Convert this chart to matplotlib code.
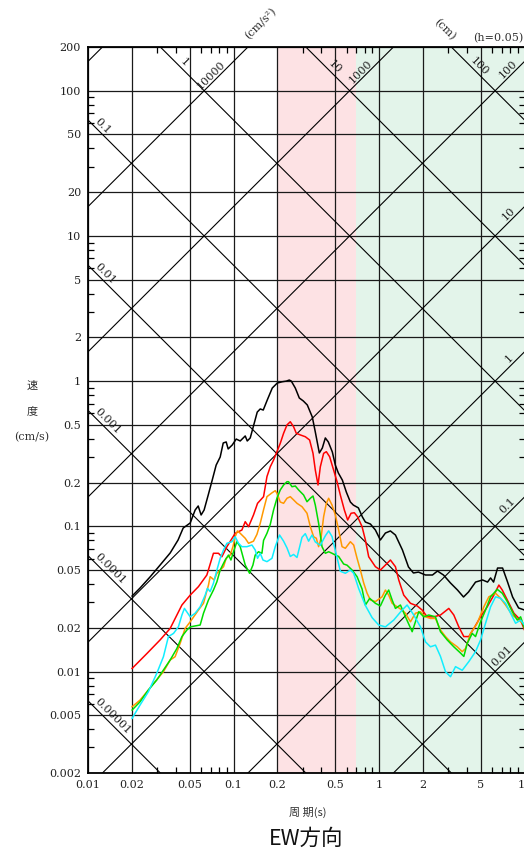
import numpy as np
import matplotlib
matplotlib.use("Agg")
import matplotlib.pyplot as plt
from matplotlib.ticker import FixedLocator, FixedFormatter, NullFormatter

# ---------------- data (period in s, pseudo velocity in cm/s) ----------------
period_black = [0.0201, 0.0228, 0.0267, 0.0313, 0.0367, 0.0416, 0.0451, 0.0504, 0.0545, 0.0572,
                0.0599, 0.0628, 0.0670, 0.0714, 0.0760, 0.0810, 0.0850, 0.0891, 0.0919, 0.0980,
                0.1044, 0.1112, 0.1204, 0.1243, 0.1303, 0.1366, 0.1456, 0.1527, 0.1601, 0.1706,
                0.1847, 0.1999, 0.2164, 0.2306, 0.2418, 0.2496, 0.2659, 0.2833, 0.3018, 0.3215,
                0.3480, 0.3650, 0.3889, 0.4078, 0.4277, 0.4485, 0.4778, 0.5011, 0.5255, 0.5600,
                0.5965, 0.6357, 0.6665, 0.7215, 0.7688, 0.8062, 0.8727, 0.9446, 1.022, 1.107,
                1.198, 1.297, 1.449, 1.594, 1.725, 1.867, 2.086, 2.331, 2.523, 2.775,
                3.100, 3.464, 3.810, 4.124, 4.608, 5.148, 5.572, 5.845, 6.129, 6.529,
                7.069, 7.651, 8.284, 9.107, 10.0]
sv_black = [0.0331, 0.0376, 0.0448, 0.0541, 0.0655, 0.0805, 0.0973, 0.1054, 0.1295, 0.138,
            0.1197, 0.1295, 0.164, 0.208, 0.264, 0.300, 0.375, 0.381, 0.341, 0.363,
            0.399, 0.387, 0.419, 0.387, 0.406, 0.483, 0.612, 0.643, 0.632, 0.741,
            0.896, 0.970, 0.99, 1.0, 1.017, 1.0, 0.896, 0.765, 0.730, 0.685,
            0.566, 0.446, 0.320, 0.346, 0.406, 0.381, 0.325, 0.264, 0.233, 0.208,
            0.172, 0.147, 0.140, 0.134, 0.116, 0.107, 0.1037, 0.0943, 0.0805, 0.0899,
            0.0929, 0.0871, 0.0687, 0.0525, 0.0477, 0.0484, 0.0462, 0.0462, 0.0492, 0.0462,
            0.0407, 0.0364, 0.0326, 0.0353, 0.0413, 0.0427, 0.0413, 0.0441, 0.0413, 0.0516,
            0.0516, 0.0413, 0.0326, 0.0274, 0.0265]

period_red = [0.0201, 0.0254, 0.0313, 0.0367, 0.0442, 0.0504, 0.0574, 0.0656, 0.0728, 0.0788,
              0.0832, 0.0901, 0.1027, 0.1142, 0.1204, 0.1269, 0.1372, 0.1463, 0.1609, 0.1698,
              0.1789, 0.1885, 0.1989, 0.2096, 0.2209, 0.2331, 0.2456, 0.2588, 0.2701, 0.2877,
              0.3115, 0.3335, 0.3520, 0.3650, 0.3810, 0.3951, 0.4163, 0.4345, 0.4578, 0.4877,
              0.5147, 0.5425, 0.5780, 0.6089, 0.6427, 0.6771, 0.7137, 0.7650, 0.8062, 0.8495,
              0.9446, 1.022, 1.107, 1.198, 1.297, 1.367, 1.479, 1.645, 1.829, 1.980,
              2.143, 2.380, 2.646, 3.018, 3.267, 3.536, 3.828, 4.143, 4.485, 4.988,
              5.546, 6.159, 6.665, 7.036, 7.615, 8.454, 9.401, 10.0]
sv_red = [0.0105, 0.0133, 0.0165, 0.0198, 0.0287, 0.0336, 0.0384, 0.0462, 0.0652, 0.0652,
          0.0617, 0.0724, 0.0895, 0.0943, 0.1076, 0.0994, 0.1197, 0.144, 0.160, 0.220,
          0.257, 0.286, 0.3265, 0.373, 0.437, 0.499, 0.525, 0.485, 0.437, 0.426,
          0.414, 0.393, 0.318, 0.244, 0.1925, 0.257, 0.318, 0.3265, 0.3015, 0.244,
          0.203, 0.164, 0.1295, 0.1105, 0.123, 0.124, 0.116, 0.0994, 0.0804, 0.0617,
          0.0527, 0.050, 0.0541, 0.0586, 0.0527, 0.0427, 0.0336, 0.0295, 0.0283, 0.0265,
          0.0238, 0.0238, 0.0245, 0.0272, 0.0245, 0.0203, 0.0174, 0.0174, 0.0198, 0.0238,
          0.0279, 0.0336, 0.0394, 0.0364, 0.0311, 0.0252, 0.0226, 0.0193]

period_orange = [0.0201, 0.0228, 0.0260, 0.0289, 0.0330, 0.0367, 0.0397, 0.0430, 0.0465, 0.0504,
                 0.0574, 0.0622, 0.0673, 0.0691, 0.0736, 0.0769, 0.0810, 0.0854, 0.0891, 0.0949,
                 0.0991, 0.1027, 0.1065, 0.1112, 0.1204, 0.1269, 0.1372, 0.1449, 0.1527, 0.1609,
                 0.1698, 0.1838, 0.1936, 0.1989, 0.2096, 0.2209, 0.2331, 0.2456, 0.2588, 0.2732,
                 0.2957, 0.3201, 0.3373, 0.3553, 0.3709, 0.3846, 0.3995, 0.4163, 0.4345, 0.4507,
                 0.4756, 0.5011, 0.5279, 0.5572, 0.5872, 0.6357, 0.6697, 0.7068, 0.7447, 0.7850,
                 0.8282, 0.8727, 0.9446, 1.050, 1.107, 1.166, 1.231, 1.332, 1.442, 1.520,
                 1.645, 1.780, 1.928, 2.086, 2.258, 2.444, 2.646, 2.864, 3.100, 3.448,
                 3.732, 3.932, 4.256, 4.733, 5.255, 5.689, 6.325, 6.847, 7.413, 8.244,
                 9.152, 10.0]
sv_orange = [0.00572, 0.00636, 0.00746, 0.00851, 0.00997, 0.0120, 0.01265, 0.01564, 0.0198, 0.0220,
             0.0265, 0.0295, 0.0394, 0.0450, 0.0427, 0.0475, 0.0500, 0.0527, 0.0602, 0.0634,
             0.0724, 0.0848, 0.0930, 0.0895, 0.0827, 0.0764, 0.0790, 0.088, 0.105, 0.130,
             0.160, 0.170, 0.176, 0.169, 0.147, 0.144, 0.156, 0.160, 0.152, 0.144,
             0.1365, 0.123, 0.0994, 0.0848, 0.0827, 0.0724, 0.0827, 0.1164, 0.144, 0.156,
             0.140, 0.1198, 0.0943, 0.0724, 0.0706, 0.0783, 0.0743, 0.0602, 0.050, 0.0407,
             0.0346, 0.0311, 0.0303, 0.0327, 0.0364, 0.0336, 0.0295, 0.0279, 0.0265, 0.0252,
             0.0220, 0.0252, 0.0258, 0.0238, 0.0232, 0.0232, 0.0193, 0.0174, 0.0160, 0.0148,
             0.0137, 0.0144, 0.0183, 0.0215, 0.0279, 0.0327, 0.0346, 0.0319, 0.0287, 0.0245,
             0.0226, 0.0209]

period_green = [0.0201, 0.0228, 0.0260, 0.0297, 0.0330, 0.0367, 0.0408, 0.0442, 0.0478, 0.0504,
                0.0590, 0.0622, 0.0673, 0.0728, 0.0769, 0.0810, 0.0877, 0.0924, 0.0960, 0.1000,
                0.1055, 0.1112, 0.1204, 0.1289, 0.1360, 0.1410, 0.1486, 0.1568, 0.1609, 0.1698,
                0.1789, 0.1885, 0.1989, 0.2096, 0.2209, 0.2331, 0.2390, 0.2523, 0.2659, 0.2802,
                0.3032, 0.3201, 0.3373, 0.3520, 0.3650, 0.3846, 0.4058, 0.4277, 0.4507, 0.4756,
                0.5011, 0.5279, 0.5715, 0.6031, 0.6530, 0.7068, 0.7650, 0.8062, 0.8630, 0.9446,
                1.022, 1.107, 1.166, 1.231, 1.297, 1.404, 1.520, 1.690, 1.780, 1.876,
                2.031, 2.198, 2.444, 2.646, 2.943, 3.267, 3.633, 3.828, 4.039, 4.372,
                4.608, 4.988, 5.399, 5.845, 6.498, 7.036, 7.615, 8.244, 8.923, 9.401,
                10.0]
sv_green = [0.00543, 0.00619, 0.00746, 0.00874, 0.01024, 0.0120, 0.0144, 0.0174, 0.0193, 0.0203,
            0.0209, 0.0252, 0.0311, 0.0364, 0.0415, 0.0500, 0.0586, 0.0634, 0.0586, 0.0668,
            0.0783, 0.0724, 0.0541, 0.0475, 0.0541, 0.0634, 0.0668, 0.0652, 0.080, 0.0895,
            0.103, 0.1295, 0.156, 0.178, 0.1925, 0.2028, 0.2028, 0.1874, 0.1895, 0.178,
            0.1643, 0.1477, 0.156, 0.1617, 0.140, 0.1049, 0.0724, 0.0652, 0.0668, 0.0652,
            0.0634, 0.062, 0.055, 0.054, 0.050, 0.045, 0.037, 0.0287, 0.0319, 0.0295,
            0.0283, 0.0336, 0.0364, 0.0311, 0.0272, 0.0287, 0.0238, 0.0188, 0.0220, 0.0258,
            0.0238, 0.0245, 0.0238, 0.0188, 0.0165, 0.0148, 0.0134, 0.0127, 0.0156, 0.0183,
            0.0174, 0.0220, 0.0265, 0.0327, 0.0368, 0.0346, 0.0303, 0.0258, 0.0226, 0.0238,
            0.0198]

period_cyan = [0.0201, 0.0228, 0.0260, 0.0297, 0.0330, 0.0357, 0.0387, 0.0418, 0.0442, 0.0460,
               0.0504, 0.0545, 0.0590, 0.0639, 0.0662, 0.0691, 0.0728, 0.0769, 0.0810, 0.0854,
               0.0901, 0.0975, 0.1027, 0.1082, 0.1142, 0.1237, 0.1339, 0.1410, 0.1463, 0.1527,
               0.1594, 0.1698, 0.1838, 0.1936, 0.2073, 0.2209, 0.2331, 0.2456, 0.2588, 0.2732,
               0.2957, 0.3115, 0.3282, 0.3464, 0.3650, 0.3951, 0.4277, 0.4507, 0.4756, 0.5011,
               0.5425, 0.5872, 0.6357, 0.6697, 0.7242, 0.8062, 0.8966, 0.9954, 1.107, 1.262,
               1.442, 1.561, 1.733, 1.928, 2.086, 2.258, 2.444, 2.646, 2.864, 3.100,
               3.356, 3.732, 4.143, 4.608, 4.988, 5.399, 5.845, 6.325, 6.847, 7.413,
               8.025, 8.685, 9.401, 10.0]
sv_cyan = [0.00476, 0.00588, 0.00726, 0.00972, 0.01265, 0.0174, 0.0183, 0.0203, 0.0245, 0.0272,
           0.0238, 0.0252, 0.0279, 0.0336, 0.0374, 0.0355, 0.0405, 0.0500, 0.0602, 0.0687,
           0.0764, 0.0783, 0.0848, 0.0764, 0.0724, 0.0724, 0.0743, 0.0687, 0.0602, 0.0652,
           0.0586, 0.0571, 0.0602, 0.0724, 0.0871, 0.079, 0.071, 0.062, 0.064, 0.061,
           0.084, 0.089, 0.079, 0.087, 0.078, 0.074, 0.086, 0.093, 0.085, 0.068,
           0.049, 0.0475, 0.050, 0.0475, 0.0374, 0.0285, 0.0235, 0.0209, 0.0203, 0.0226,
           0.0265, 0.0287, 0.0245, 0.0203, 0.0160, 0.0148, 0.0152, 0.0127, 0.00997, 0.00921,
           0.0108, 0.0102, 0.0117, 0.0137, 0.0165, 0.0215, 0.0279, 0.0327, 0.0319, 0.0295,
           0.0252, 0.0215, 0.0226, 0.0209]

x_ticks = [0.01, 0.02, 0.05, 0.1, 0.2, 0.5, 1, 2, 5, 10]
x_tick_labels = ["0.01", "0.02", "0.05", "0.1", "0.2", "0.5", "1", "2", "5", "10"]
y_ticks = [0.002, 0.005, 0.01, 0.02, 0.05, 0.1, 0.2, 0.5, 1, 2, 5, 10, 20, 50, 100, 200]
y_tick_labels = ["0.002", "0.005", "0.01", "0.02", "0.05", "0.1", "0.2", "0.5",
                 "1", "2", "5", "10", "20", "50", "100", "200"]

disp_levels = [1e-5, 1e-4, 1e-3, 1e-2, 0.1, 1, 10, 100]          # cm
acc_levels = [0.01, 0.1, 1, 10, 100, 1000, 10000, 100000]          # cm/s^2

# left-edge displacement labels
left_disp_labels = [(1e-5, "0.00001"), (1e-4, "0.0001"), (1e-3, "0.001"), (1e-2, "0.01"), (0.1, "0.1")]
# top displacement labels (period where label sits)
top_disp_labels = [(1, "1", 0.0428), (10, "10", 0.464), (100, "100", 4.55)]
# acceleration labels
acc_label_pos = [(10000, "10000", 0.0755), (1000, "1000", 0.793), (100, "100", 8.27),
                 (10, "10", 8.28), (1, "1", 8.39), (0.1, "0.1", 8.18), (0.01, "0.01", 7.53)]

SERIF = "DejaVu Serif"
CJK = ["Noto Sans CJK JP", "DejaVu Sans"]

W, H = 524, 851
fig = plt.figure(figsize=(W / 100, H / 100), dpi=100)
ax = fig.add_axes([88 / W, 78 / H, 436.5 / W, 726 / H])
ax.set_xscale("log")
ax.set_yscale("log")
ax.set_xlim(0.01, 10)
ax.set_ylim(0.002, 200)
ax.autoscale(False)

# shaded period bands
ax.axvspan(0.2, 0.7, color="#fde2e4", lw=0, zorder=0)
ax.axvspan(0.7, 10, color="#e3f4ea", lw=0, zorder=0)

# grid
for t in x_ticks:
    ax.axvline(t, color="#1a1a1a", lw=0.9, zorder=1)
for s in y_ticks:
    ax.axhline(s, color="#1a1a1a", lw=0.9, zorder=1)

# tripartite diagonals
Tl = np.array([1e-3, 100.0])
for D in disp_levels:
    ax.plot(Tl, 2 * np.pi * D / Tl, color="black", lw=0.8, zorder=1.5)
for A in acc_levels:
    ax.plot(Tl, A * Tl / (2 * np.pi), color="black", lw=0.8, zorder=1.5)

lab_kw = dict(fontsize=8, family=SERIF, rotation_mode="anchor", va="bottom",
              color="#222222", zorder=4, annotation_clip=False)
for D, txt in left_disp_labels:
    T = 0.0106
    ax.annotate(txt, xy=(T, 2 * np.pi * D / T), xytext=(0.5, 0.5), textcoords="offset points",
                rotation=-45, ha="left", **lab_kw)
for D, txt, T in top_disp_labels:
    ax.annotate(txt, xy=(T, 2 * np.pi * D / T), xytext=(0.5, 0.5), textcoords="offset points",
                rotation=-45, ha="center", **lab_kw)
for A, txt, T in acc_label_pos:
    ax.annotate(txt, xy=(T, A * T / (2 * np.pi)), xytext=(-0.5, 0.5), textcoords="offset points",
                rotation=45, ha="center", **lab_kw)

# response curves
ax.plot(period_black, sv_black, color="black", lw=1.1, zorder=3)
ax.plot(period_red, sv_red, color="#ff0000", lw=1.1, zorder=3)
ax.plot(period_orange, sv_orange, color="#ff9900", lw=1.1, zorder=3)
ax.plot(period_green, sv_green, color="#00dd00", lw=1.1, zorder=3)
ax.plot(period_cyan, sv_cyan, color="#11eeff", lw=1.1, zorder=3)

# ticks
ax.xaxis.set_major_locator(FixedLocator(x_ticks))
ax.xaxis.set_major_formatter(FixedFormatter(x_tick_labels))
ax.yaxis.set_major_locator(FixedLocator(y_ticks))
ax.yaxis.set_major_formatter(FixedFormatter(y_tick_labels))
xm = [m * 10.0 ** e for e in (-2, -1, 0) for m in (3, 4, 6, 7, 8, 9)]
ym = [m * 10.0 ** e for e in (-3, -2, -1, 0, 1, 2) for m in (3, 4, 6, 7, 8, 9)]
ax.xaxis.set_minor_locator(FixedLocator(xm))
ax.yaxis.set_minor_locator(FixedLocator(ym))
ax.xaxis.set_minor_formatter(NullFormatter())
ax.yaxis.set_minor_formatter(NullFormatter())
ax.tick_params(which="major", length=0, pad=5, labelsize=8)
ax.tick_params(which="minor", direction="in", length=4, width=0.9, top=True, right=True)
for lab in ax.get_xticklabels() + ax.get_yticklabels():
    lab.set_family(SERIF)
    lab.set_color("#222222")
for sp in ax.spines.values():
    sp.set_linewidth(1.3)
    sp.set_zorder(5)

# axis titles and annotations (figure pixel coordinates)
def fx(px):
    return px / W

def fy(py):
    return 1 - py / H

fig.text(fx(32), fy(386), "速", family=CJK, fontsize=8, ha="center", va="center", color="#333333")
fig.text(fx(32), fy(411.5), "度", family=CJK, fontsize=8, ha="center", va="center", color="#333333")
fig.text(fx(32), fy(437), "(cm/s)", family=SERIF, fontsize=8, ha="center", va="center", color="#333333")
fig.text(fx(308), fy(812), "周 期(s)", family=CJK, fontsize=8, ha="center", va="center", color="#333333")
fig.text(fx(306), fy(839), "EW方向", family=CJK, fontsize=15.5, ha="center", va="center", color="#111111")
fig.text(fx(261), fy(24), "(cm/s²)", family=SERIF, fontsize=8, rotation=45, ha="center", va="center", color="#333333")
fig.text(fx(445), fy(30), "(cm)", family=SERIF, fontsize=8, rotation=-45, ha="center", va="center", color="#333333")
fig.text(fx(498), fy(38), "(h=0.05)", family=SERIF, fontsize=8, ha="center", va="center", color="#333333")

fig.savefig("out.png", dpi=100)
